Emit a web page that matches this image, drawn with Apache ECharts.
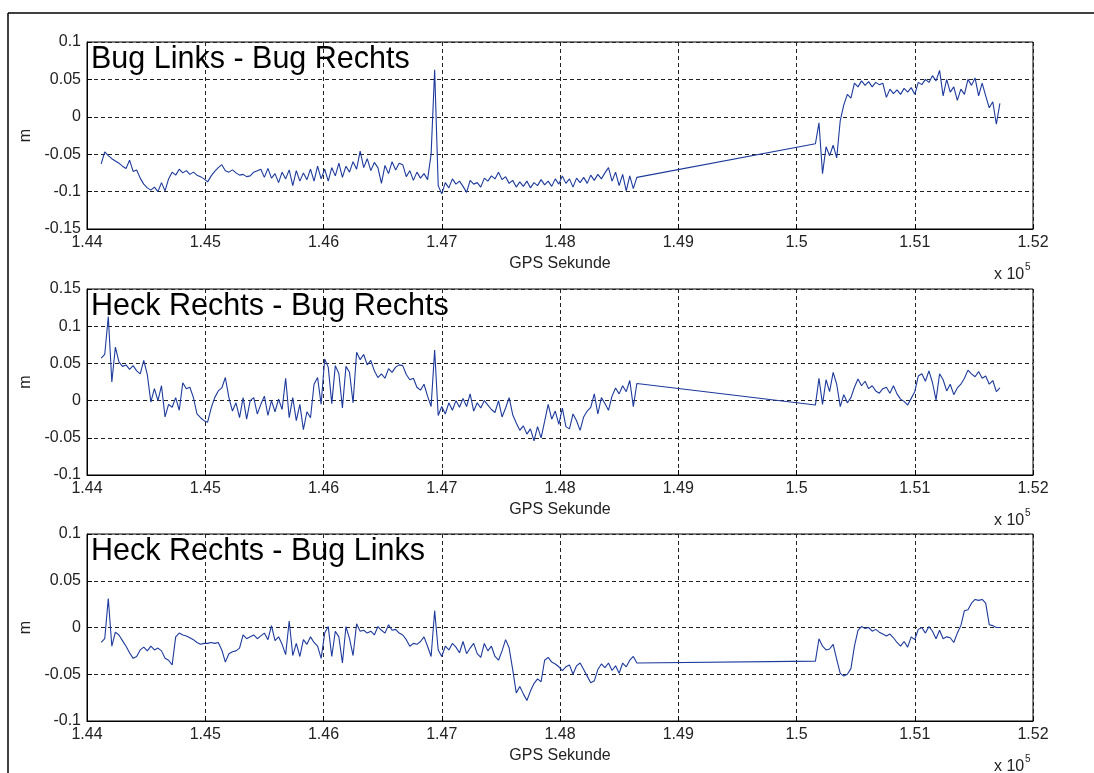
<!DOCTYPE html>
<html><head><meta charset="utf-8">
<script src="https://cdn.jsdelivr.net/npm/echarts@6/dist/echarts.min.js"></script>
<style>html,body{margin:0;padding:0;background:#fff}#c{width:1094px;height:773px}</style>
</head><body><div id="c"></div>
<script>
// GPS time stamps (s); shared by all three difference series
const gpsSeconds = [
144120,144150,144180,144210,144240,144270,144300,144330,144360,144390,
144420,144450,144480,144510,144540,144570,144600,144630,144660,144690,
144720,144750,144780,144810,144840,144870,144900,144930,144960,144990,
145020,145050,145080,145110,145140,145170,145200,145230,145260,145290,
145320,145350,145380,145410,145440,145470,145500,145530,145560,145590,
145620,145650,145680,145710,145740,145770,145800,145830,145860,145890,
145920,145950,145980,146010,146040,146070,146100,146130,146160,146190,
146220,146250,146280,146310,146340,146370,146400,146430,146460,146490,
146520,146550,146580,146610,146640,146670,146700,146730,146760,146790,
146820,146850,146880,146910,146940,146970,147000,147030,147060,147090,
147120,147150,147180,147210,147240,147270,147300,147330,147360,147390,
147420,147450,147480,147510,147540,147570,147600,147630,147660,147690,
147720,147750,147780,147810,147840,147870,147900,147930,147960,147990,
148020,148050,148080,148110,148140,148170,148200,148230,148260,148290,
148320,148350,148380,148410,148440,148470,148500,148530,148560,148590,
148620,148650,
150160,150190,150220,150250,150280,150310,150340,150370,150400,150430,
150460,150490,150520,150550,150580,150610,150640,150670,150700,150730,
150760,150790,150820,150850,150880,150910,150940,150970,151000,151030,
151060,151090,151120,151150,151180,151210,151240,151270,151300,151330,
151360,151390,151420,151450,151480,151510,151540,151570,151600,151630,
151660,151690,151720
];

// Bug Links - Bug Rechts (m)
const bugLinksMinusBugRechts = [
-0.063,-0.047,-0.052,-0.056,-0.059,-0.062,-0.066,-0.069,-0.058,-0.073,
-0.071,-0.082,-0.090,-0.095,-0.098,-0.094,-0.100,-0.088,-0.099,-0.083,
-0.074,-0.078,-0.070,-0.075,-0.072,-0.077,-0.074,-0.078,-0.080,-0.083,
-0.087,-0.079,-0.073,-0.068,-0.064,-0.072,-0.074,-0.071,-0.075,-0.078,
-0.077,-0.080,-0.079,-0.074,-0.072,-0.070,-0.081,-0.069,-0.082,-0.076,
-0.088,-0.074,-0.083,-0.071,-0.092,-0.072,-0.086,-0.075,-0.084,-0.070,
-0.086,-0.066,-0.083,-0.070,-0.086,-0.068,-0.079,-0.062,-0.081,-0.066,
-0.074,-0.060,-0.070,-0.046,-0.068,-0.056,-0.072,-0.061,-0.068,-0.089,
-0.065,-0.076,-0.060,-0.071,-0.062,-0.064,-0.080,-0.072,-0.085,-0.074,
-0.082,-0.076,-0.084,-0.050,0.063,-0.092,-0.103,-0.088,-0.095,-0.083,
-0.090,-0.086,-0.093,-0.101,-0.085,-0.090,-0.088,-0.094,-0.082,-0.086,
-0.079,-0.083,-0.074,-0.084,-0.080,-0.089,-0.085,-0.094,-0.087,-0.093,
-0.086,-0.095,-0.088,-0.092,-0.084,-0.091,-0.086,-0.093,-0.083,-0.090,
-0.079,-0.089,-0.083,-0.094,-0.082,-0.088,-0.081,-0.089,-0.078,-0.085,
-0.077,-0.083,-0.075,-0.068,-0.086,-0.074,-0.092,-0.077,-0.099,-0.079,
-0.096,-0.081,
-0.036,-0.008,-0.076,-0.040,-0.052,-0.038,-0.055,-0.005,0.016,0.030,
0.025,0.045,0.040,0.048,0.042,0.047,0.040,0.046,0.043,0.045,
0.026,0.037,0.031,0.036,0.030,0.038,0.033,0.039,0.030,0.046,
0.043,0.050,0.046,0.055,0.048,0.062,0.028,0.050,0.033,0.040,
0.022,0.037,0.030,0.050,0.042,0.052,0.028,0.045,0.028,0.012,
0.020,-0.010,0.018
];

// Heck Rechts - Bug Rechts (m)
const heckRechtsMinusBugRechts = [
0.057,0.062,0.113,0.025,0.072,0.052,0.046,0.048,0.042,0.047,
0.040,0.036,0.054,0.035,-0.002,0.016,0.000,0.020,-0.022,-0.005,
-0.009,0.004,-0.013,0.024,0.016,0.018,0.004,-0.018,-0.023,-0.027,
-0.029,-0.010,0.004,0.013,0.017,0.031,0.004,-0.014,-0.003,-0.023,
0.004,-0.025,0.000,0.004,-0.018,-0.005,0.006,-0.020,0.000,-0.015,
0.002,-0.012,0.030,-0.023,0.004,-0.027,-0.005,-0.039,-0.015,-0.023,
0.022,0.031,-0.005,0.056,0.045,-0.004,0.047,0.036,-0.010,0.046,
0.038,-0.003,0.065,0.055,0.062,0.048,0.054,0.040,0.031,0.036,
0.030,0.043,0.038,0.045,0.048,0.047,0.035,0.028,0.030,0.018,
0.014,0.022,0.006,-0.008,0.068,-0.020,-0.008,-0.018,-0.003,-0.013,
0.000,-0.009,0.003,-0.008,0.009,-0.014,-0.003,-0.010,0.000,-0.006,
-0.012,-0.016,0.000,-0.022,-0.010,0.004,-0.019,-0.030,-0.040,-0.034,
-0.045,-0.038,-0.054,-0.035,-0.050,-0.028,-0.005,-0.025,-0.014,-0.032,
-0.010,-0.035,-0.038,-0.018,-0.027,-0.040,-0.022,-0.014,-0.009,0.009,
-0.018,0.004,-0.004,-0.013,0.006,0.017,0.009,0.020,0.012,0.027,
-0.008,0.023,
-0.006,0.030,-0.005,0.028,0.012,0.038,0.022,-0.008,0.008,-0.003,
0.004,0.018,0.029,0.020,0.026,0.016,0.020,0.013,0.010,0.016,
0.018,0.010,0.020,0.009,0.002,-0.001,-0.006,0.003,0.012,0.033,
0.036,0.026,0.040,0.024,0.001,0.036,0.028,0.013,0.022,0.008,
0.017,0.022,0.030,0.041,0.036,0.032,0.039,0.030,0.033,0.022,
0.027,0.012,0.017
];

// Heck Rechts - Bug Links (m)
const heckRechtsMinusBugLinks = [
-0.016,-0.012,0.031,-0.020,-0.005,-0.008,-0.014,-0.020,-0.027,-0.033,
-0.031,-0.024,-0.021,-0.025,-0.020,-0.024,-0.022,-0.025,-0.033,-0.035,
-0.040,-0.010,-0.006,-0.008,-0.009,-0.011,-0.013,-0.016,-0.018,-0.017,
-0.017,-0.016,-0.017,-0.016,-0.024,-0.037,-0.028,-0.026,-0.025,-0.022,
-0.008,-0.012,-0.010,-0.008,-0.012,-0.009,-0.006,-0.013,0.002,-0.014,
-0.010,-0.018,-0.029,0.007,-0.030,-0.017,-0.031,-0.013,-0.018,-0.010,
-0.016,-0.020,-0.033,-0.006,0.001,-0.031,-0.004,-0.010,-0.038,0.001,
-0.012,-0.030,0.004,-0.004,-0.003,-0.006,-0.004,-0.008,0.001,-0.003,
-0.006,0.003,-0.003,-0.002,-0.006,-0.008,-0.013,-0.020,-0.017,-0.018,
-0.015,-0.010,-0.020,-0.031,0.018,-0.024,-0.031,-0.020,-0.024,-0.017,
-0.021,-0.027,-0.015,-0.028,-0.022,-0.017,-0.028,-0.032,-0.017,-0.025,
-0.020,-0.031,-0.035,-0.025,-0.013,-0.022,-0.045,-0.070,-0.063,-0.071,
-0.078,-0.068,-0.060,-0.055,-0.058,-0.035,-0.032,-0.037,-0.039,-0.042,
-0.046,-0.042,-0.040,-0.050,-0.041,-0.038,-0.045,-0.052,-0.059,-0.057,
-0.045,-0.039,-0.043,-0.038,-0.046,-0.041,-0.049,-0.038,-0.042,-0.035,
-0.031,-0.038,
-0.036,-0.012,-0.020,-0.024,-0.023,-0.018,-0.034,-0.049,-0.052,-0.050,
-0.044,-0.020,-0.003,0.001,-0.001,0.000,-0.004,-0.002,-0.005,-0.007,
-0.009,-0.007,-0.011,-0.016,-0.020,-0.015,-0.021,-0.010,-0.013,-0.002,
0.000,-0.006,0.001,-0.004,-0.012,-0.003,-0.012,-0.010,-0.011,-0.016,
-0.006,0.002,0.018,0.019,0.026,0.030,0.029,0.030,0.026,0.003,
0.002,0.000,0.000
];

const panelTitles = ['Bug Links - Bug Rechts', 'Heck Rechts - Bug Rechts', 'Heck Rechts - Bug Links'];
const panelSeries = [bugLinksMinusBugRechts, heckRechtsMinusBugRechts, heckRechtsMinusBugLinks];
const panelYMin = [-0.15, -0.1, -0.1];
const panelYMax = [0.1, 0.15, 0.1];
const yStep = 0.05;
const xMin = 144000, xMax = 152000, xStep = 1000;
const xAxisTitle = 'GPS Sekunde';
const yAxisTitle = 'm';
const xScaleBase = 'x 10';
const xScaleExp = '5';

// layout
const FONT = "'Liberation Sans', Arial, Helvetica, sans-serif";
const gridLeft = 87, gridWidth = 946;
const gridTops = [42, 289, 534];
const gridHeights = [187, 186, 187];
const lineColor = '#1d3a9c';

const grids = [], xAxes = [], yAxes = [], series = [], titles = [], graphics = [];
panelTitles.forEach((title, k) => {
  grids.push({left: gridLeft, top: gridTops[k], width: gridWidth, height: gridHeights[k],
    show: true, borderColor: '#000', borderWidth: 1, backgroundColor: '#fff'});
  xAxes.push({type: 'value', gridIndex: k, min: xMin, max: xMax, interval: xStep,
    name: xAxisTitle, nameLocation: 'middle', nameGap: 27,
    nameTextStyle: {fontFamily: FONT, fontSize: 16, color: '#222'},
    axisLine: {show: true, onZero: false, lineStyle: {color: '#000', width: 1}},
    axisTick: {show: true, inside: true, length: 5, lineStyle: {color: '#000'}},
    axisLabel: {formatter: v => String(parseFloat((v / 1e5).toFixed(4))), margin: 6,
      fontFamily: FONT, fontSize: 16, color: '#222'},
    splitLine: {show: true, lineStyle: {type: [4, 3], color: '#222', width: 1}}});
  yAxes.push({type: 'value', gridIndex: k, min: panelYMin[k], max: panelYMax[k], interval: yStep,
    name: yAxisTitle, nameLocation: 'middle', nameGap: 50,
    nameTextStyle: {fontFamily: FONT, fontSize: 16, color: '#222'},
    axisLine: {show: true, onZero: false, lineStyle: {color: '#000', width: 1}},
    axisTick: {show: true, inside: true, length: 5, lineStyle: {color: '#000'}},
    axisLabel: {formatter: v => String(parseFloat(v.toFixed(3))), margin: 6,
      fontFamily: FONT, fontSize: 16, color: '#222'},
    splitLine: {show: true, lineStyle: {type: [4, 3], color: '#222', width: 1}}});
  series.push({type: 'line', xAxisIndex: k, yAxisIndex: k,
    data: gpsSeconds.map((t, n) => [t, panelSeries[k][n]]),
    showSymbol: false, symbol: 'none', lineStyle: {color: lineColor, width: 1.1},
    z: 3, animation: false});
  titles.push({text: title, left: gridLeft + 4, top: gridTops[k] + 2, padding: 0,
    textStyle: {fontFamily: FONT, fontSize: 30.5, fontWeight: 'normal', color: '#000'}});
  const bottom = gridTops[k] + gridHeights[k];
  graphics.push({type: 'text', left: 994, top: bottom + 38,
    style: {text: xScaleBase, font: '16px ' + FONT, fill: '#222'}});
  graphics.push({type: 'text', left: 1025, top: bottom + 33,
    style: {text: xScaleExp, font: '10px ' + FONT, fill: '#222'}});
});
graphics.push({type: 'line', shape: {x1: 8, y1: 13, x2: 1094, y2: 13}, style: {stroke: '#000', lineWidth: 1.5}});
graphics.push({type: 'line', shape: {x1: 8, y1: 13, x2: 8, y2: 773}, style: {stroke: '#000', lineWidth: 1.5}});

const chart = echarts.init(document.getElementById('c'), null, {renderer: 'canvas'});
chart.setOption({
  backgroundColor: '#fff', animation: false,
  title: titles, grid: grids, xAxis: xAxes, yAxis: yAxes, series: series, graphic: graphics
});
</script>
</body></html>
